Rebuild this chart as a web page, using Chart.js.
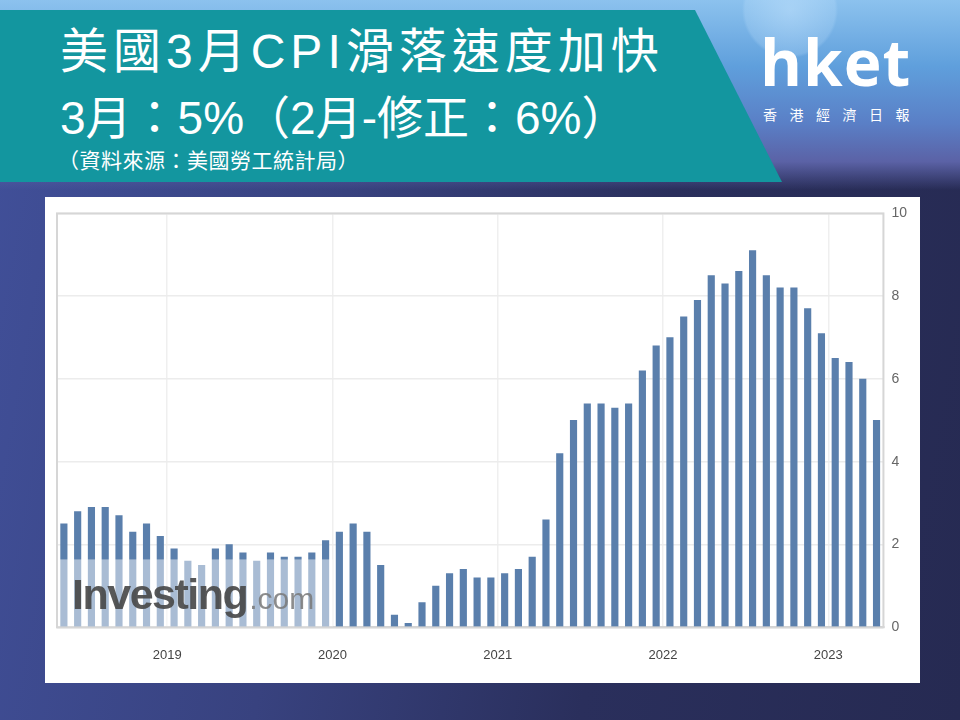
<!DOCTYPE html>
<html>
<head>
<meta charset="utf-8">
<script src="https://cdn.jsdelivr.net/npm/chart.js@4.4.0/dist/chart.umd.min.js"></script>
<style>
  html, body { margin: 0; padding: 0; }
  body {
    width: 960px; height: 720px; position: relative; overflow: hidden;
    background: linear-gradient(100deg, #41509a 0%, #38427f 35%, #2a2f5c 65%, #262a52 100%);
    font-family: "Liberation Sans", "Noto Sans CJK TC", sans-serif;
  }
  #sky {
    position: absolute; left: 0; top: 0; width: 960px; height: 190px;
    background:
      radial-gradient(circle at 790px 10px, rgba(200,230,255,0.5) 0, rgba(200,230,255,0.22) 45px, rgba(200,230,255,0) 48px),
      linear-gradient(to bottom, #8cc2ee 0%, #5f9fdc 35%, #5a7fc6 65%, #5b62a6 85%, rgba(60,70,130,0) 100%);
  }
  #banner {
    position: absolute; left: 0; top: 10px; width: 790px; height: 172px;
    background: #13969f;
    clip-path: polygon(0 0, 695px 0, 782px 172px, 0 172px);
  }
  .t1, .t2, .t3 { position: absolute; color: #fff; white-space: nowrap; }
  .t1 { left: 60px; top: 12px; font-size: 48px; letter-spacing: 5px; }
  .t2 { left: 60px; top: 81px; font-size: 46px; }
  .t3 { left: 58px; top: 144px; font-size: 21px; letter-spacing: 0.5px; }
  #logo { position: absolute; left: 760px; top: 22px; color: #fff; font-family: "Open Sans", sans-serif; font-weight: 700; font-size: 64px; letter-spacing: 1px; line-height: 80px; }
  #logo2 { position: absolute; left: 763px; top: 104px; color: #fff; font-size: 14px; letter-spacing: 12.5px; font-family: "Noto Sans CJK TC", sans-serif; }
  #panel { position: absolute; left: 45px; top: 197px; width: 875px; height: 486px; background: #fff; }
</style>
</head>
<body>
<div id="sky"></div>
<div id="banner"></div>
<div class="t1">美國3月CPI滑落速度加快</div>
<div class="t2">3月：5%（2月-修正：6%）</div>
<div class="t3">（資料來源：美國勞工統計局）</div>
<div id="logo">hket</div>
<div id="logo2">香港經濟日報</div>
<div id="panel"><canvas id="cpiChart" width="875" height="486"></canvas></div>
<script>
// data month of each bar (bars are placed by release, one month later)
const months = [
  "2018-04","2018-05","2018-06","2018-07","2018-08","2018-09","2018-10","2018-11","2018-12",
  "2019-01","2019-02","2019-03","2019-04","2019-05","2019-06","2019-07","2019-08","2019-09","2019-10","2019-11","2019-12",
  "2020-01","2020-02","2020-03","2020-04","2020-05","2020-06","2020-07","2020-08","2020-09","2020-10","2020-11","2020-12",
  "2021-01","2021-02","2021-03","2021-04","2021-05","2021-06","2021-07","2021-08","2021-09","2021-10","2021-11","2021-12",
  "2022-01","2022-02","2022-03","2022-04","2022-05","2022-06","2022-07","2022-08","2022-09","2022-10","2022-11","2022-12",
  "2023-01","2023-02","2023-03"
];
// CPI yoy %
const cpi = [
  2.5, 2.8, 2.9, 2.9, 2.7, 2.3, 2.5, 2.2, 1.9,
  1.6, 1.5, 1.9, 2.0, 1.8, 1.6, 1.8, 1.7, 1.7, 1.8, 2.1, 2.3,
  2.5, 2.3, 1.5, 0.3, 0.1, 0.6, 1.0, 1.3, 1.4, 1.2, 1.2, 1.3,
  1.4, 1.7, 2.6, 4.2, 5.0, 5.4, 5.4, 5.3, 5.4, 6.2, 6.8, 7.0,
  7.5, 7.9, 8.5, 8.3, 8.6, 9.1, 8.5, 8.2, 8.2, 7.7, 7.1, 6.5,
  6.4, 6.0, 5.0
];
const yearLabels = ["2019", "2020", "2021", "2022", "2023"];
const yTicks = [0, 2, 4, 6, 8, 10];

// year boundary sits just before the bar of the December figure (released in January)
const yearTickPos = yearLabels.map(y => months.indexOf((Number(y) - 1) + "-12") - 0.5);

const points = cpi.map((v, i) => ({ x: i, y: v }));

const watermark = {
  id: "watermark",
  afterDatasetsDraw(chart) {
    const { ctx, chartArea } = chart;
    ctx.save();
    ctx.fillStyle = "rgba(255,255,255,0.48)";
    ctx.fillRect(chartArea.left, chartArea.bottom - 68, 276, 68);
    ctx.fillStyle = "rgba(70,70,70,0.9)";
    ctx.font = "bold 43px 'Liberation Sans', Arial, sans-serif";
    ctx.textBaseline = "alphabetic";
    if (ctx.letterSpacing !== undefined) ctx.letterSpacing = "-1.5px";
    ctx.fillText("Investing", chartArea.left + 15, chartArea.bottom - 18);
    const w = ctx.measureText("Investing").width;
    ctx.fillStyle = "rgba(120,120,120,0.85)";
    ctx.font = "30px 'Liberation Sans', Arial, sans-serif";
    if (ctx.letterSpacing !== undefined) ctx.letterSpacing = "0px";
    ctx.fillText(".com", chartArea.left + 15 + w + 2, chartArea.bottom - 18);
    ctx.restore();
  },
  afterDraw(chart) {
    const { ctx, chartArea } = chart;
    ctx.save();
    ctx.strokeStyle = "#d6d6d6";
    ctx.lineWidth = 2;
    ctx.strokeRect(chartArea.left, chartArea.top, chartArea.right - chartArea.left, chartArea.bottom - chartArea.top);
    ctx.restore();
  }
};

const ctx = document.getElementById("cpiChart").getContext("2d");
new Chart(ctx, {
  type: "bar",
  data: {
    datasets: [{
      label: "CPI",
      data: points,
      backgroundColor: "#5a7fac",
      barThickness: 6.5
    }]
  },
  options: {
    responsive: false,
    animation: false,
    plugins: { legend: { display: false }, tooltip: { enabled: false } },
    layout: { padding: { left: 12, top: 5, right: 5, bottom: 0 } },
    scales: {
      x: {
        type: "linear",
        offset: false,
        min: -0.5,
        max: 59.5,
        afterBuildTicks: (scale) => { scale.ticks = yearTickPos.map(v => ({ value: v })); },
        ticks: {
          color: "#444",
          font: { family: "'Liberation Sans', Arial", size: 13 },
          padding: 20,
          callback: (v) => yearLabels[yearTickPos.indexOf(v)]
        },
        grid: { color: "#efefef", lineWidth: 1.5, drawTicks: false, offset: false },
        border: { color: "#cfcfcf", width: 2 }
      },
      y: {
        position: "right",
        min: 0,
        max: 10,
        afterBuildTicks: (scale) => { scale.ticks = yTicks.map(v => ({ value: v })); },
        ticks: {
          color: "#666",
          font: { family: "'Liberation Sans', Arial", size: 14 },
          padding: 8
        },
        grid: { color: "#ececec", lineWidth: 1.5, drawTicks: false },
        border: { display: false }
      }
    }
  },
  plugins: [watermark]
});
</script>
</body>
</html>
